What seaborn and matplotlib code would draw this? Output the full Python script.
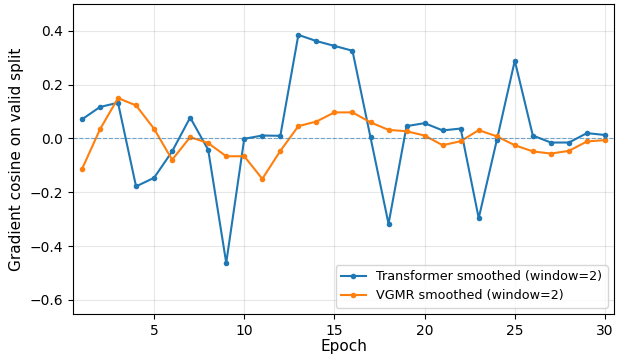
import pandas as pd
import numpy as np
import matplotlib
matplotlib.use('Agg')
import matplotlib.pyplot as plt
import seaborn as sns

epochs = list(range(1, 31))
transformer = [0.071, 0.117, 0.133, -0.178, -0.146, -0.048, 0.078, -0.042, -0.462, -0.001,
               0.011, 0.010, 0.385, 0.362, 0.344, 0.326, 0.004, -0.317, 0.046, 0.057,
               0.030, 0.037, -0.296, -0.007, 0.289, 0.011, -0.015, -0.015, 0.020, 0.013]
vgmr = [-0.114, 0.034, 0.150, 0.123, 0.036, -0.079, 0.005, -0.017, -0.066, -0.066,
        -0.150, -0.046, 0.046, 0.063, 0.097, 0.097, 0.060, 0.032, 0.027, 0.011,
        -0.025, -0.010, 0.031, 0.008, -0.025, -0.048, -0.056, -0.046, -0.011, -0.006]
labels = ['Transformer smoothed (window=2)', 'VGMR smoothed (window=2)']

df = pd.concat([
    pd.DataFrame({'Epoch': epochs, 'cos': transformer, 'series': labels[0]}),
    pd.DataFrame({'Epoch': epochs, 'cos': vgmr, 'series': labels[1]}),
], ignore_index=True)

fig, ax = plt.subplots(figsize=(6.18, 3.56), dpi=100)
sns.lineplot(data=df, x='Epoch', y='cos', hue='series', palette=['#1f77b4', '#ff7f0e'],
             marker='o', markersize=4, markeredgewidth=0, linewidth=1.5, ax=ax)
ax.axhline(0, color='#1f77b4', linestyle='--', linewidth=0.8, alpha=0.6)
ax.grid(True, alpha=0.3)
ax.set_xlim(0.5, 30.5)
ax.set_ylim(-0.652, 0.5)
ax.set_xticks([5, 10, 15, 20, 25, 30])
ax.set_xlabel('Epoch', fontsize=11, labelpad=1)
ax.set_ylabel('Gradient cosine on valid split', fontsize=11)
ax.tick_params(labelsize=10)
ax.legend(loc='lower right', fontsize=9.2, title=None)
fig.subplots_adjust(left=0.118, right=0.9935, top=0.989, bottom=0.118)
fig.savefig('out.png', dpi=100)
